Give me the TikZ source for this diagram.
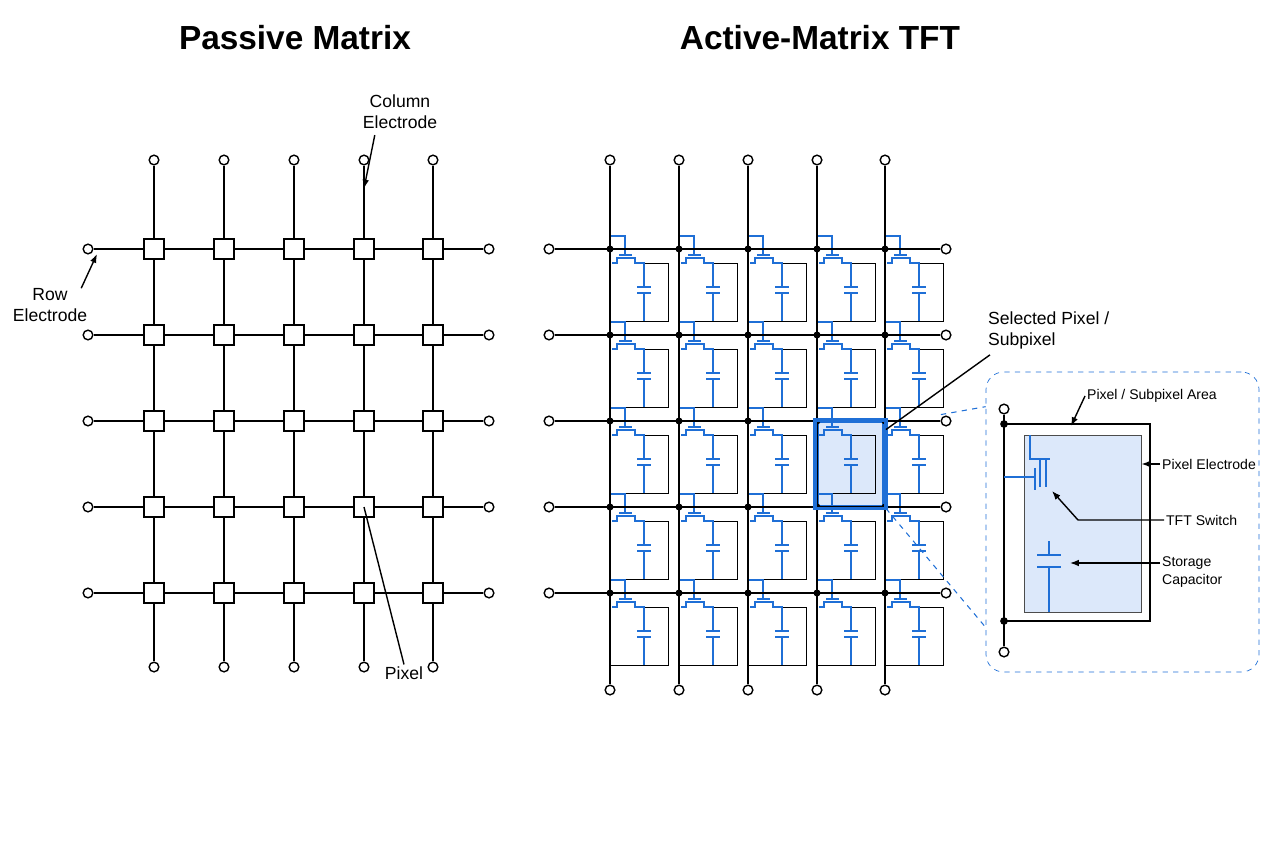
\documentclass[tikz,border=0pt]{standalone}
\usepackage{fontspec}
\setmainfont{Liberation Sans}
\usetikzlibrary{arrows.meta,positioning,calc}
\definecolor{tftblue}{HTML}{1F6FD6}
\definecolor{pixfill}{HTML}{DCE8FA}
\tikzset{
  term/.style={circle,draw,line width=0.8pt,fill=white,inner sep=0pt,minimum size=5.5pt},
  pix/.style={rectangle,draw,thick,fill=white,inner sep=0pt,minimum size=20*0.02cm},
  wire/.style={line width=1pt},
  tft/.style={tftblue,line width=1pt},
  lbl/.style={font=\fontsize{10}{12}\selectfont,align=center,inner sep=1pt},
  small/.style={font=\fontsize{8}{10}\selectfont,align=left,inner sep=1pt},
  arrow/.style={-{Latex[length=5pt]},line width=0.8pt},
}
\begin{document}
\begin{tikzpicture}[x=0.02cm,y=-0.02cm]
  \useasboundingbox (0,0) rectangle (1267,845);

  % titles
  \node (ptitle) at (295,38) {\fontsize{19}{22}\selectfont\bfseries Passive Matrix};
  \node (atitle) at (820,38) {\fontsize{19}{22}\selectfont\bfseries Active-Matrix TFT};

  % passive matrix
  \foreach \c [count=\i] in {154,224,294,364,433} {
    \node[term] (pt\i) at (\c,160) {};
    \node[term] (pb\i) at (\c,667) {};
    \draw[wire] (pt\i) -- (pb\i);
  }
  \foreach \r [count=\j] in {249,335,421,507,593} {
    \node[term] (pl\j) at (88,\r) {};
    \node[term] (pr\j) at (489,\r) {};
    \draw[wire] (pl\j) -- (pr\j);
    \foreach \c [count=\i] in {154,224,294,364,433}
      \node[pix] (p\i\j) at (\c,\r) {};
  }
  \node[lbl] (collbl) at (400,112) {Column\\Electrode};
  \draw[arrow] (collbl.south west) ++(14,4) -- ($(pt4)!0.32!(p41)$);
  \node[lbl] (rowlbl) at (50,305) {Row\\Electrode};
  \draw[arrow] (rowlbl.north east) ++(-8,2) -- ($(pl1)+(9,5)$);
  \node[lbl] (pixlbl) at (404,673) {Pixel};
  \draw[line width=0.8pt] (pixlbl.north) -- (p44.center);

  % active matrix
  \foreach \c [count=\i] in {610,679,748,817,885} {
    \node[term] (at\i) at (\c,160) {};
    \node[term] (ab\i) at (\c,690) {};
  }
  % selected pixel
  \node[draw=tftblue,line width=2.2pt,fill=pixfill,minimum width=67*0.02cm,
        minimum height=85*0.02cm,inner sep=0pt] (sel) at (850.5,464) {};
  \foreach \c in {610,679,748,817,885} {
    \foreach \r in {249,335,421,507,593} {
      \draw[line width=0.5pt] (\c+25,\r+14) -- (\c+58,\r+14) -- (\c+58,\r+72) -- (\c,\r+72);
      \draw[tft] (\c,\r-13) -- (\c+15,\r-13) -- (\c+15,\r+6);
      \draw[tft] (\c+9,\r+6) -- (\c+22,\r+6);
      \draw[tft] (\c+2,\r+14) -- (\c+7,\r+14) -- (\c+7,\r+9) -- (\c+25,\r+9) -- (\c+25,\r+14) -- (\c+34,\r+14) -- (\c+34,\r+38);
      \draw[tft] (\c+27,\r+38) -- (\c+41,\r+38);
      \draw[tft] (\c+27,\r+44) -- (\c+41,\r+44);
      \draw[tft] (\c+34,\r+44) -- (\c+34,\r+72);
    }
  }
  \foreach \i in {1,...,5} \draw[wire] (at\i) -- (ab\i);
  \foreach \r [count=\j] in {249,335,421,507,593} {
    \node[term] (al\j) at (549,\r) {};
    \node[term] (ar\j) at (946,\r) {};
    \draw[wire] (al\j) -- (ar\j);
    \foreach \c in {610,679,748,817,885}
      \fill (\c,\r) circle (2pt);
  }
  \draw[tftblue,line width=2.2pt] (sel.south west) rectangle (sel.north east);

  \node[lbl,align=left,anchor=west] (sellbl) at (986,330) {Selected Pixel /\\Subpixel};
  \draw[line width=0.8pt] (sellbl.south west) ++(4,4) -- ($(sel.north east)+(0,10)$);

  % inset
  \node[draw=tftblue,dashed,rounded corners=10pt,minimum width=273*0.02cm,
        minimum height=300*0.02cm,inner sep=0pt] (inset) at (1122.5,522) {};
  \draw[tftblue,dashed,line width=0.6pt] ($(sel.north east)+(55,-5)$) -- ($(inset.north west)+(0,35)$);
  \draw[tftblue,dashed,line width=0.6pt] (sel.south east) -- ($(inset.south west)+(0,-45)$);

  \node[term] (it) at (1004,409) {};
  \node[term] (ib) at (1004,652) {};
  \draw[wire] (it) -- (ib);
  \coordinate (itop) at (1004,424);
  \coordinate (ibot) at (1004,621);
  \fill (itop) circle (2.2pt) (ibot) circle (2.2pt);
  \draw[wire] (itop) -- (1150,424) -- (1150,621) -- (ibot);
  \node[draw=black!70,line width=0.5pt,fill=pixfill,minimum width=117*0.02cm,
        minimum height=177*0.02cm,inner sep=0pt] (elec) at (1082.5,523.5) {};
  \draw[tft,line width=1.6pt] (1030,435) -- (1030,459) -- (1050,459);
  \draw[tft,line width=1.6pt] (1040,459) -- (1040,487);
  \draw[tft,line width=1.6pt] (1046,459) -- (1046,487);
  \draw[tft,line width=1.6pt] (1004,477) -- (1035,477);
  \draw[tft,line width=1.6pt] (1035,468) -- (1035,490);
  \draw[tft,line width=1.6pt] (1049,541) -- (1049,555);
  \draw[tft,line width=1.6pt] (1037,555) -- (1061,555);
  \draw[tft,line width=1.6pt] (1037,567) -- (1061,567);
  \draw[tft,line width=1.6pt] (1049,567) -- (1049,612);

  \node[small,anchor=west] (arealbl) at (1085,396) {Pixel / Subpixel Area};
  \draw[arrow] (arealbl.west) -- (1071,426);
  \node[small,anchor=west] (eleclbl) at (1160,464) {Pixel Electrode};
  \draw[arrow] (eleclbl.west) -- (elec.east |- eleclbl.west);
  \node[small,anchor=west] (tftlbl) at (1164,520) {TFT Switch};
  \draw[arrow] (tftlbl.west) -- (1078,520) -- (1052,491);
  \node[small,anchor=west] (caplbl) at (1160,572) {Storage\\Capacitor};
  \draw[arrow] ($(caplbl.west)+(0,-9)$) -- (1070,563);
\end{tikzpicture}
\end{document}
